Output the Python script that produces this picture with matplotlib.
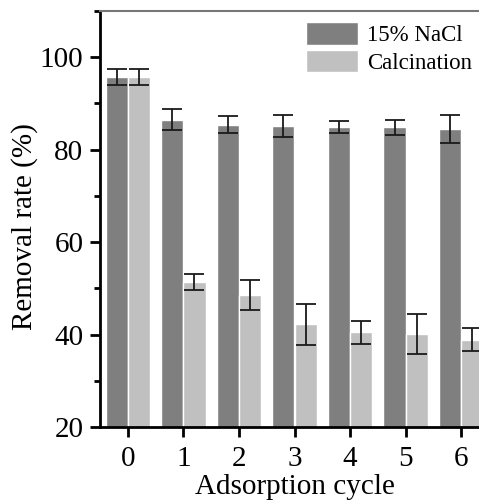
import matplotlib.pyplot as plt
import numpy as np
from matplotlib.ticker import MultipleLocator

plt.rcParams['font.family'] = ['Liberation Serif', 'DejaVu Serif']

cycles = [0, 1, 2, 3, 4, 5, 6]
nacl = [95.7, 86.5, 85.4, 85.1, 85.0, 84.8, 84.5]
nacl_err = [1.7, 2.2, 1.8, 2.4, 1.3, 1.7, 3.1]
calc = [95.7, 51.3, 48.6, 42.2, 40.5, 40.1, 38.9]
calc_err = [1.7, 1.7, 3.2, 4.5, 2.5, 4.4, 2.5]

fig = plt.figure(figsize=(4.79, 5.0), dpi=100)
# axes runs past the right edge, as in the original crop
ax = fig.add_axes([100 / 479, 73 / 500, 389 / 479, 416 / 500])

x = np.array(cycles)
w = 0.4
ax.bar(x - w / 2, nacl, w, color='#7f7f7f', edgecolor='white', linewidth=1,
       label='15% NaCl', zorder=2)
ax.bar(x + w / 2, calc, w, color='#c0c0c0', edgecolor='white', linewidth=1,
       label='Calcination', zorder=2)
ax.errorbar(x - w / 2, nacl, yerr=nacl_err, fmt='none', ecolor='#1a1a1a',
            elinewidth=1.3, capsize=7, capthick=1.3, zorder=3)
ax.errorbar(x + w / 2, calc, yerr=calc_err, fmt='none', ecolor='#1a1a1a',
            elinewidth=1.3, capsize=7, capthick=1.3, zorder=3)

ax.set_xlim(-0.5, 6.5)
ax.set_ylim(20, 110)
ax.set_xticks(cycles)
ax.set_yticks([20, 40, 60, 80, 100])
ax.yaxis.set_minor_locator(MultipleLocator(10))

ax.spines['left'].set_linewidth(2)
ax.spines['bottom'].set_linewidth(2)
ax.spines['top'].set_color('#777777')
ax.spines['top'].set_linewidth(1.5)
ax.spines['right'].set_visible(False)

ax.tick_params(axis='both', which='major', direction='out', length=7, width=2,
               labelsize=21, pad=5)
ax.tick_params(axis='x', which='major', pad=7)
ax.tick_params(axis='y', which='minor', direction='out', length=4, width=2)
ax.tick_params(top=False, right=False)

ax.set_xlabel('Adsorption cycle', fontsize=21, labelpad=1)
ax.set_ylabel('Removal rate (%)', fontsize=21)
ax.yaxis.set_label_coords(-0.16, 0.482)

ax.legend(loc='upper left', bbox_to_anchor=(306 / 479, 1 - 22 / 500),
          bbox_transform=fig.transFigure, frameon=False, fontsize=16.5,
          handlelength=2.25, handleheight=1.15, labelspacing=0.15,
          handletextpad=0.4, borderpad=0, borderaxespad=0)

fig.savefig('out.png', dpi=100)
